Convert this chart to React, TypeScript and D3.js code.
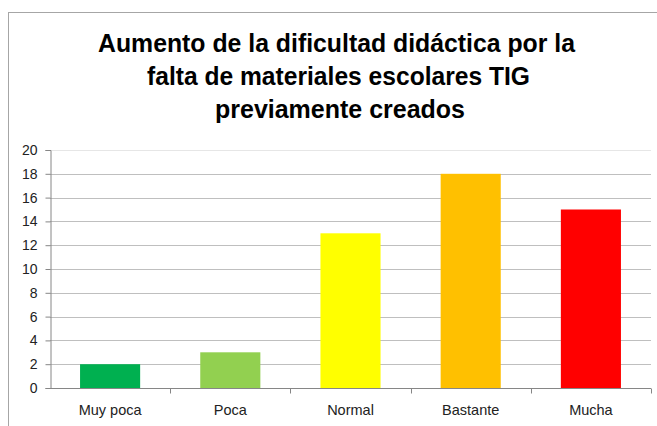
import React, { useEffect, useRef } from 'react';
import * as d3 from 'd3';

const categories = ['Muy poca', 'Poca', 'Normal', 'Bastante', 'Mucha'];
const values = [2, 3, 13, 18, 15];
const colors = ['#00B050', '#92D050', '#FFFF00', '#FFC000', '#FF0000'];
const yTicks = [0, 2, 4, 6, 8, 10, 12, 14, 16, 18, 20];
const titleLines = [
  'Aumento de la dificultad didáctica por la',
  'falta de materiales escolares TIG',
  'previamente creados',
];
const titleWidths = [477, 383, 250];

export default function App() {
  const ref = useRef<SVGSVGElement>(null);

  useEffect(() => {
    const width = 657;
    const height = 426;
    const margin = { top: 150, right: 6, bottom: 38, left: 50 };
    const font = '"Liberation Sans", Arial, sans-serif';

    const svg = d3.select(ref.current).attr('viewBox', [0, 0, width, height]);
    svg.selectAll('*').remove();

    // chart frame
    svg
      .append('rect')
      .attr('x', 8.5)
      .attr('y', 12.5)
      .attr('width', 700)
      .attr('height', 500)
      .attr('fill', '#fff')
      .attr('stroke', '#a6a6a6');

    // title
    svg
      .append('g')
      .selectAll('text')
      .data(titleLines)
      .join('text')
      .attr('x', (d, i) => [336.5, 338.5, 340][i])
      .attr('y', (d, i) => 52 + i * 33)
      .attr('text-anchor', 'middle')
      .attr('font-family', font)
      .attr('font-weight', 'bold')
      .attr('font-size', 26)
      .attr('textLength', (d, i) => titleWidths[i])
      .attr('lengthAdjust', 'spacingAndGlyphs')
      .attr('fill', '#000')
      .text((d) => d);

    const x = d3
      .scaleBand()
      .domain(categories)
      .range([margin.left, width - margin.right])
      .paddingInner(0.5)
      .paddingOuter(0.25);
    const xb = d3.scaleBand().domain(categories).range([margin.left, width - margin.right]);
    const y = d3.scaleLinear().domain([0, 20]).range([height - margin.bottom, margin.top]);

    // gridlines
    svg
      .append('g')
      .selectAll('line')
      .data(yTicks.filter((t) => t > 0))
      .join('line')
      .attr('x1', margin.left)
      .attr('x2', width - margin.right)
      .attr('y1', (d) => Math.round(y(d)) + 0.5)
      .attr('y2', (d) => Math.round(y(d)) + 0.5)
      .attr('stroke', (d) => (d === 20 ? '#e6e6e6' : '#bfbfbf'))
      .attr('stroke-width', 1.2);

    // bars
    svg
      .append('g')
      .selectAll('rect')
      .data(values)
      .join('rect')
      .attr('x', (d, i) => x(categories[i]))
      .attr('width', x.bandwidth())
      .attr('y', (d) => y(d))
      .attr('height', (d) => y(0) - y(d))
      .attr('fill', (d, i) => colors[i]);

    // y axis
    const yAxis = svg
      .append('g')
      .attr('transform', `translate(${margin.left + 0.5},0)`)
      .call(d3.axisLeft(y).tickValues(yTicks).tickSize(5).tickPadding(8));
    yAxis.select('.domain').attr('stroke', '#868686');
    yAxis.selectAll('.tick line').attr('stroke', '#868686');
    yAxis
      .selectAll('.tick text')
      .attr('font-family', font)
      .attr('font-size', 14)
      .attr('fill', '#222');

    // x axis
    const xg = svg.append('g').attr('transform', `translate(0,${Math.round(y(0)) + 0.5})`);
    xg.append('line')
      .attr('x1', margin.left)
      .attr('x2', width - margin.right)
      .attr('stroke', '#868686');
    xg.selectAll('line.tk')
      .data(categories.map((c) => (xb(c) as number) + xb.bandwidth()))
      .join('line')
      .attr('class', 'tk')
      .attr('x1', (d) => Math.round(d) + 0.5)
      .attr('x2', (d) => Math.round(d) + 0.5)
      .attr('y1', 0)
      .attr('y2', 5)
      .attr('stroke', '#868686');
    xg.selectAll('text')
      .data(categories)
      .join('text')
      .attr('x', (d) => (xb(d) as number) + xb.bandwidth() / 2)
      .attr('y', 26)
      .attr('text-anchor', 'middle')
      .attr('font-family', font)
      .attr('font-size', 14.5)
      .attr('fill', '#222')
      .text((d) => d);
  }, []);

  return (
    <svg
      ref={ref}
      width={657}
      height={426}
      style={{ position: 'absolute', left: 0, top: 0, background: '#fff' }}
    />
  );
}
